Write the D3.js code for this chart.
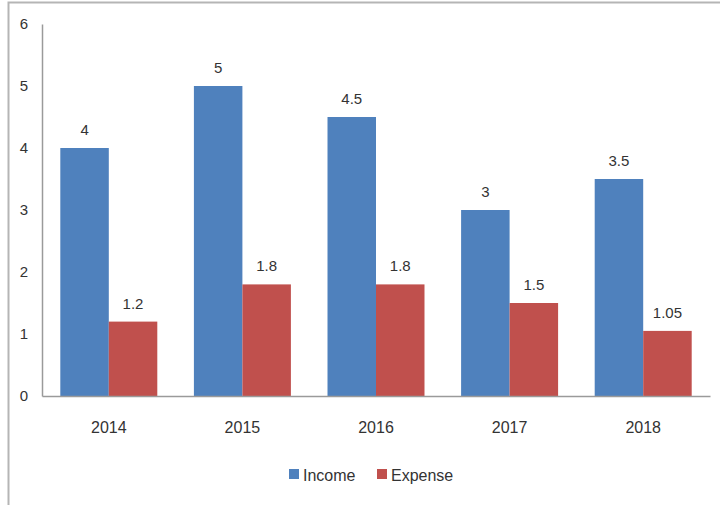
<!DOCTYPE html>
<html><head><meta charset="utf-8">
<script src="https://cdn.jsdelivr.net/npm/d3@7"></script>
<style>body{margin:0;background:#fff}svg{display:block}</style>
</head><body>
<svg id="c" width="720" height="505"></svg>
<script>
const categories = ["2014","2015","2016","2017","2018"];
const seriesNames = ["Income","Expense"];
const income = [4,5,4.5,3,3.5];
const expense = [1.2,1.8,1.8,1.5,1.05];
const yTicks = [0,1,2,3,4,5,6];
const colors = ["#4F81BD","#C0504D"];

const svg = d3.select("#c");
const font = "'Liberation Sans',Arial,sans-serif";
const txt = "#333333";

// outer frame
svg.append("path").attr("d","M8.5,505 V2.5 H720").attr("fill","none").attr("stroke","#b5b5b5").attr("stroke-width",2);

const x0 = d3.scaleBand().domain(categories).range([42,710]);
const gap = x0.bandwidth()*0.137;
const x1 = d3.scaleBand().domain(seriesNames).range([gap, x0.bandwidth()-gap]);
const y = d3.scaleLinear().domain([0,6]).range([396,24]);

const data = categories.map((c,i)=>({cat:c, vals:[income[i],expense[i]]}));

const g = svg.append("g");
data.forEach(d=>{
  d.vals.forEach((v,j)=>{
    g.append("rect")
      .attr("x", x0(d.cat)+x1(seriesNames[j]))
      .attr("y", y(v))
      .attr("width", x1.bandwidth())
      .attr("height", y(0)-y(v))
      .attr("fill", colors[j]);
    g.append("text")
      .attr("x", x0(d.cat)+x1(seriesNames[j])+x1.bandwidth()/2)
      .attr("y", y(v)-13)
      .attr("text-anchor","middle")
      .attr("font-family",font).attr("font-size",15).attr("fill",txt)
      .text(String(v));
  });
});

// y axis
const ya = svg.append("g").attr("transform","translate(42,0)")
  .call(d3.axisLeft(y).tickValues(yTicks).tickSize(0).tickPadding(14).tickFormat(d3.format("d")));
ya.select(".domain").attr("stroke","#9a9a9a").attr("stroke-width",1.5);
ya.selectAll("text").attr("font-family",font).attr("font-size",15).attr("fill",txt);

// x axis
const xa = svg.append("g").attr("transform","translate(0,396)")
  .call(d3.axisBottom(x0).tickSize(0).tickPadding(26));
xa.select(".domain").attr("stroke","#9a9a9a").attr("stroke-width",1.5);
xa.selectAll("text").attr("font-family",font).attr("font-size",16).attr("fill",txt);

// legend
const legX = [289, 377];
seriesNames.forEach((s,j)=>{
  svg.append("rect").attr("x",legX[j]).attr("y",469).attr("width",10).attr("height",10).attr("fill",colors[j]);
  svg.append("text").attr("x",legX[j]+14).attr("y",481)
    .attr("font-family",font).attr("font-size",16).attr("fill",txt).text(s);
});
</script>
</body></html>
